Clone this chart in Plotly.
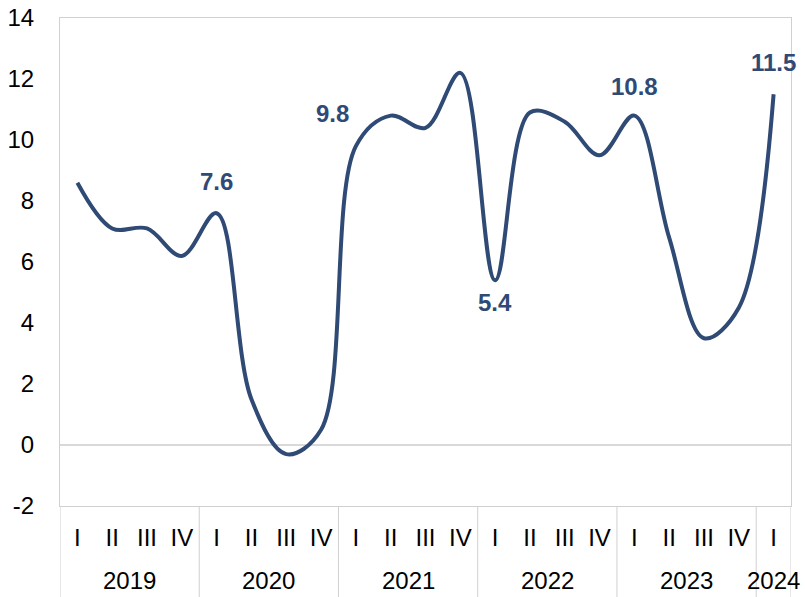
import plotly.graph_objects as go

years = ["2019"] * 4 + ["2020"] * 4 + ["2021"] * 4 + ["2022"] * 4 + ["2023"] * 4 + ["2024"]
quarters = ["I", "II", "III", "IV"] * 5 + ["I"]
values = [8.6, 7.1, 7.1, 6.2, 7.6, 1.5, -0.3, 0.5, 9.8, 10.8, 10.4, 12.2,
          5.4, 10.9, 10.6, 9.5, 10.8, 6.8, 3.5, 4.5, 11.5]
y_ticks = [-2, 0, 2, 4, 6, 8, 10, 12, 14]

# which points get a data label, and where it sits relative to the point
label_idx = [4, 8, 12, 16, 20]
label_dx = [0, -23, 0, 0, 0]
label_dy = [32, 33, -22, 29, 32]

line_color = "#2F4A75"
grey = "#d0d0d0"
font = "Liberation Sans, Arial, sans-serif"
pos = list(range(len(values)))

fig = go.Figure()
fig.add_trace(go.Scatter(
    x=pos,
    y=values,
    mode="lines",
    line=dict(color=line_color, width=4, shape="spline", smoothing=1.0),
    hoverinfo="y",
))

for i, dx, dy in zip(label_idx, label_dx, label_dy):
    fig.add_annotation(
        x=i, y=values[i],
        text=f"{values[i]:.1f}",
        showarrow=False,
        xshift=dx, yshift=dy,
        font=dict(family=font, size=24, color=line_color, weight="bold"),
    )

# year groups: label under the middle of each group, divider at each boundary
groups = []
for i, yr in enumerate(years):
    if not groups or groups[-1][0] != yr:
        groups.append([yr, i, i])
    else:
        groups[-1][2] = i
for yr, a, b in groups:
    fig.add_annotation(
        x=(a + b) / 2, y=0, yref="paper", yanchor="middle",
        text=yr, showarrow=False, yshift=-74,
        font=dict(family=font, size=24, color="black"),
    )
    fig.add_shape(type="line", xref="x", yref="paper",
                  x0=a - 0.5, x1=a - 0.5, y0=0, y1=-0.2,
                  line=dict(color=grey, width=1))
fig.add_shape(type="line", xref="x", yref="paper",
              x0=len(values) - 0.5, x1=len(values) - 0.5, y0=0, y1=-0.2,
              line=dict(color=grey, width=1))

fig.update_layout(
    width=805, height=597,
    margin=dict(l=60, r=14, t=18, b=91),
    plot_bgcolor="white",
    paper_bgcolor="white",
    showlegend=False,
    font=dict(family=font, size=24, color="black"),
)
fig.update_xaxes(
    range=[-0.5, len(values) - 0.5],
    tickvals=pos, ticktext=quarters,
    showline=True, mirror=True, linecolor=grey, linewidth=1,
    showgrid=False, zeroline=False,
    ticks="", ticklabelstandoff=10, automargin=False,
    tickfont=dict(size=24, color="black"),
)
fig.update_yaxes(
    range=[-2, 14],
    tickvals=y_ticks, ticktext=[str(v) for v in y_ticks],
    showline=True, mirror=True, linecolor=grey, linewidth=1,
    showgrid=False,
    zeroline=True, zerolinecolor="#d9d9d9", zerolinewidth=2,
    ticks="", ticklabelstandoff=20, automargin=False,
    tickfont=dict(size=24, color="black"),
)

# drop the page's default 8px body margin so the chart fills the window
fig.write_html("out.html", config={"displayModeBar": False},
               post_script="document.body.style.margin='0';")
